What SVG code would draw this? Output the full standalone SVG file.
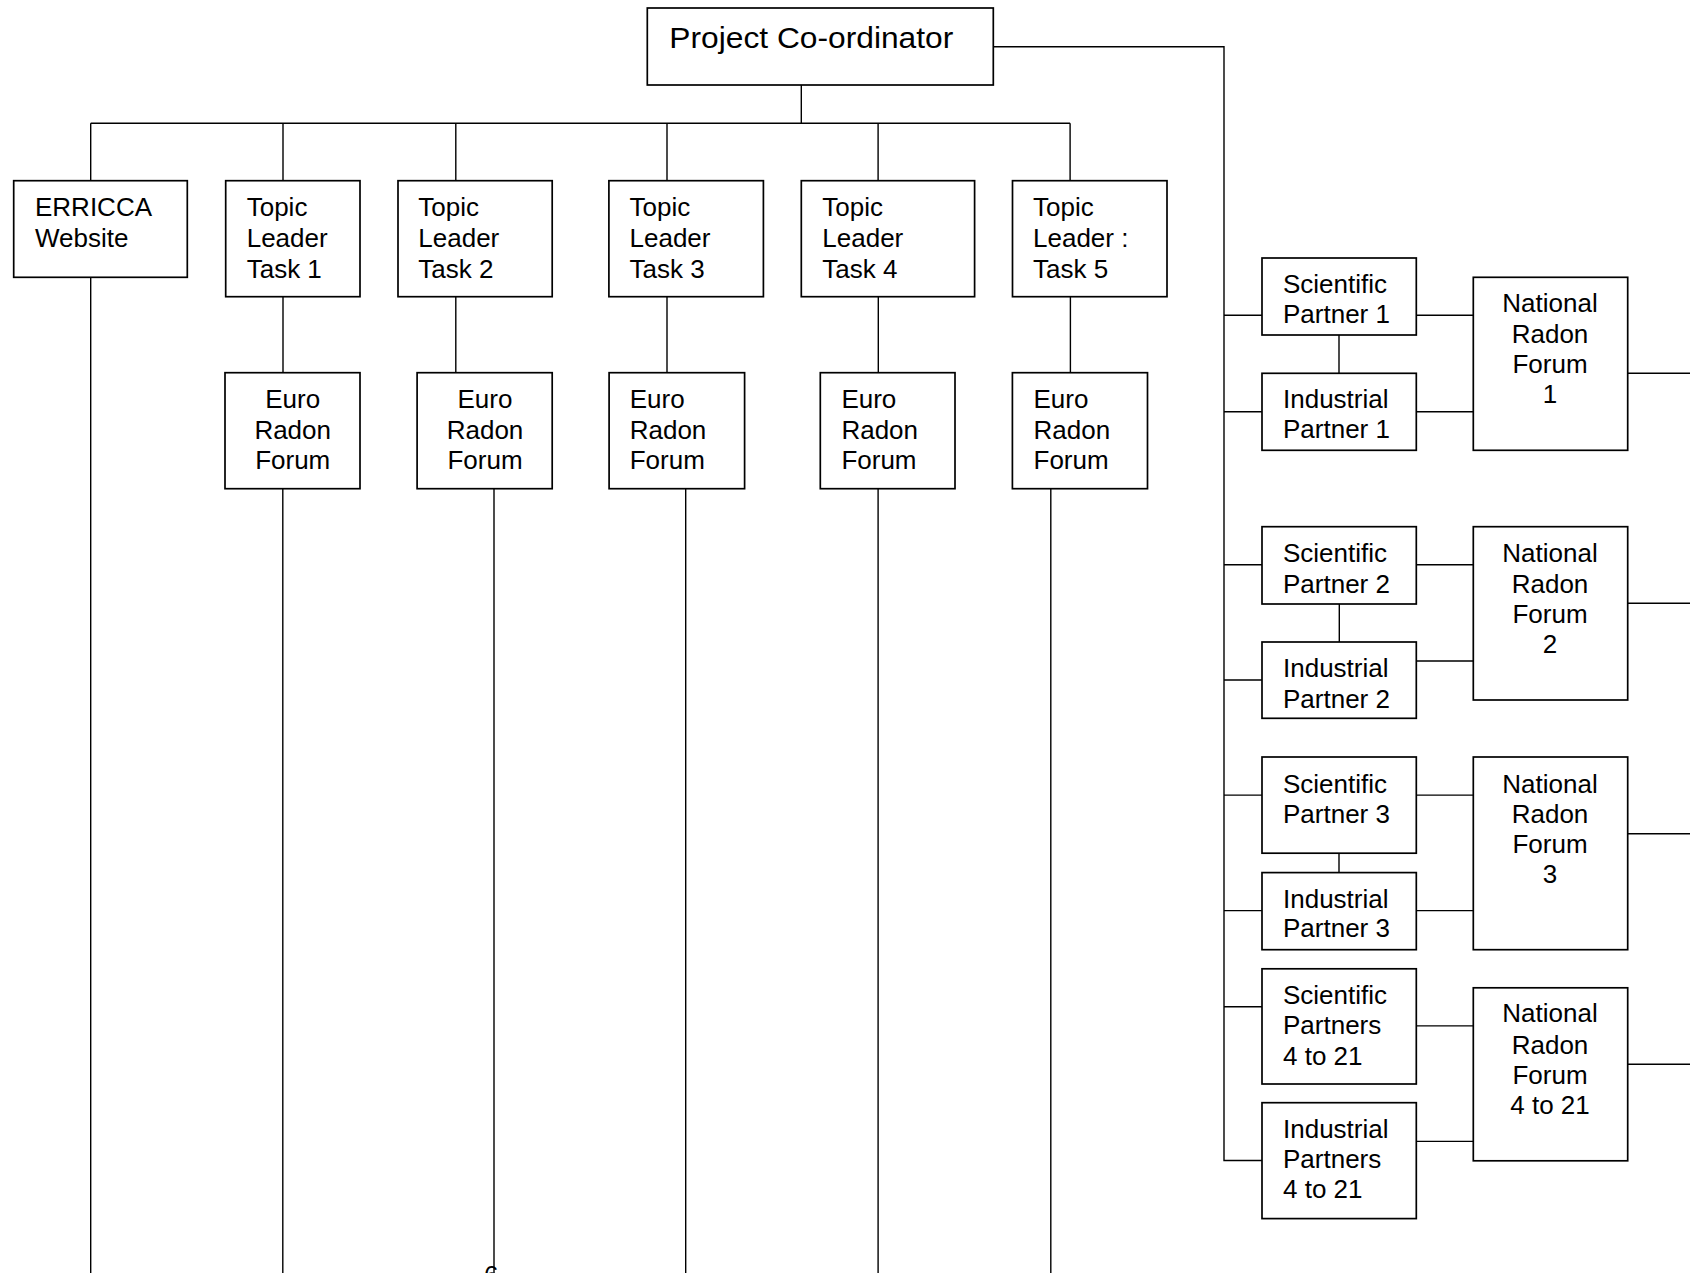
<svg xmlns="http://www.w3.org/2000/svg" width="1690" height="1273" viewBox="0 0 1690 1273">
<style>
.box{fill:#fff;stroke:#000;stroke-width:1.7}
.ln{fill:none;stroke:#000;stroke-width:1.4}
.t{font-family:"Liberation Sans",Arial,sans-serif;font-size:26px;fill:#000}
.c{text-anchor:middle}
</style>
<rect width="1690" height="1273" fill="#fff"/>
<g id="connectors" class="ln">
<path d="M801.3 85V123.3M90.7 123.3H1070.1"/>
<path d="M90.7 123.3V180.7M283 123.3V180.7M455.8 123.3V180.7M667 123.3V180.7M878.1 123.3V180.7M1070.1 123.3V180.7"/>
<path d="M283 296.7V372.7M455.8 296.7V372.7M667 296.7V372.7M878.3 296.7V372.7M1070.4 296.7V372.7"/>
<path d="M90.7 277.3V1273M282.8 488.7V1273M494 488.7V1273M685.7 488.7V1273M878.1 488.7V1273M1050.8 488.7V1273"/>
<path d="M993.3 46.7H1224V1160.5H1262"/>
<path d="M1224 315.3H1262M1224 411.7H1262M1224 564.7H1262M1224 680H1262M1224 795.1H1262M1224 910.6H1262M1224 1006.8H1262"/>
<path d="M1339 335V373.3M1339.3 604V642M1339 853.2V872.6"/>
<path d="M1416.3 315.3H1473.3M1416.3 411.7H1473.3M1416.3 564.7H1473.3M1416.3 661H1473.3M1416.3 795.1H1473.3M1416.3 910.6H1473.3M1416.3 1025.9H1473.3M1416.3 1141.4H1473.3"/>
<path d="M1627.7 373.3H1690M1627.7 603.3H1690M1627.7 833.8H1690M1627.7 1064.3H1690"/>
</g>
<g id="project-coordinator">
<rect class="box" x="647.3" y="8" width="346" height="77"/>
<text class="t" x="669.3" y="47.7" style="font-size:30px" textLength="284" lengthAdjust="spacingAndGlyphs">Project Co-ordinator</text>
</g>
<g id="erricca-website">
<rect class="box" x="13.7" y="180.7" width="173.6" height="96.6"/>
<text class="t" x="35" y="215.7">ERRICCA</text>
<text class="t" x="35" y="246.7">Website</text>
</g>
<g id="topic-1">
<rect class="box" x="225.7" y="180.7" width="134.3" height="116"/>
<text class="t" x="246.7" y="215.7">Topic</text>
<text class="t" x="246.7" y="247">Leader</text>
<text class="t" x="246.7" y="277.7">Task 1</text>
</g>
<g id="topic-2">
<rect class="box" x="398" y="180.7" width="154.2" height="116"/>
<text class="t" x="418.3" y="215.7">Topic</text>
<text class="t" x="418.3" y="247">Leader</text>
<text class="t" x="418.3" y="277.7">Task 2</text>
</g>
<g id="topic-3">
<rect class="box" x="608.9" y="180.7" width="154.5" height="116"/>
<text class="t" x="629.5" y="215.7">Topic</text>
<text class="t" x="629.5" y="247">Leader</text>
<text class="t" x="629.5" y="277.7">Task 3</text>
</g>
<g id="topic-4">
<rect class="box" x="801.3" y="180.7" width="173.3" height="116"/>
<text class="t" x="822.3" y="215.7">Topic</text>
<text class="t" x="822.3" y="247">Leader</text>
<text class="t" x="822.3" y="277.7">Task 4</text>
</g>
<g id="topic-5">
<rect class="box" x="1012.5" y="180.7" width="154.5" height="116"/>
<text class="t" x="1033" y="215.7">Topic</text>
<text class="t" x="1033" y="247">Leader :</text>
<text class="t" x="1033" y="277.7">Task 5</text>
</g>
<g id="euro-1">
<rect class="box" x="225" y="372.7" width="135" height="116"/>
<text class="t c" x="292.7" y="408.3">Euro</text>
<text class="t c" x="292.7" y="439.3">Radon</text>
<text class="t c" x="292.7" y="469.3">Forum</text>
</g>
<g id="euro-2">
<rect class="box" x="417.1" y="372.7" width="135.1" height="116"/>
<text class="t c" x="485" y="408.3">Euro</text>
<text class="t c" x="485" y="439.3">Radon</text>
<text class="t c" x="485" y="469.3">Forum</text>
</g>
<g id="euro-3">
<rect class="box" x="609.1" y="372.7" width="135.5" height="116"/>
<text class="t" x="629.7" y="408.3">Euro</text>
<text class="t" x="629.7" y="439.3">Radon</text>
<text class="t" x="629.7" y="469.3">Forum</text>
</g>
<g id="euro-4">
<rect class="box" x="820.3" y="372.7" width="134.7" height="116"/>
<text class="t" x="841.4" y="408.3">Euro</text>
<text class="t" x="841.4" y="439.3">Radon</text>
<text class="t" x="841.4" y="469.3">Forum</text>
</g>
<g id="euro-5">
<rect class="box" x="1012.4" y="372.7" width="135.1" height="116"/>
<text class="t" x="1033.5" y="408.3">Euro</text>
<text class="t" x="1033.5" y="439.3">Radon</text>
<text class="t" x="1033.5" y="469.3">Forum</text>
</g>
<g id="scientific-partner-1">
<rect class="box" x="1262" y="258" width="154.3" height="77"/>
<text class="t" x="1283" y="292.7">Scientific</text>
<text class="t" x="1283" y="323.3">Partner 1</text>
</g>
<g id="industrial-partner-1">
<rect class="box" x="1262" y="373.3" width="154.3" height="77"/>
<text class="t" x="1283" y="407.7">Industrial</text>
<text class="t" x="1283" y="438.3">Partner 1</text>
</g>
<g id="national-radon-forum-1">
<rect class="box" x="1473.3" y="277.3" width="154.4" height="173"/>
<text class="t c" x="1550" y="311.7">National</text>
<text class="t c" x="1550" y="342.7">Radon</text>
<text class="t c" x="1550" y="373.3">Forum</text>
<text class="t c" x="1550" y="403.3">1</text>
</g>
<g id="scientific-partner-2">
<rect class="box" x="1262" y="526.7" width="154.3" height="77.3"/>
<text class="t" x="1283" y="561.7">Scientific</text>
<text class="t" x="1283" y="592.7">Partner 2</text>
</g>
<g id="industrial-partner-2">
<rect class="box" x="1262" y="642" width="154.3" height="76.3"/>
<text class="t" x="1283" y="676.7">Industrial</text>
<text class="t" x="1283" y="707.7">Partner 2</text>
</g>
<g id="national-radon-forum-2">
<rect class="box" x="1473.3" y="526.7" width="154.4" height="173.3"/>
<text class="t c" x="1550" y="561.7">National</text>
<text class="t c" x="1550" y="592.7">Radon</text>
<text class="t c" x="1550" y="623.3">Forum</text>
<text class="t c" x="1550" y="653.3">2</text>
</g>
<g id="scientific-partner-3">
<rect class="box" x="1262" y="757" width="154.3" height="96.2"/>
<text class="t" x="1283" y="792.7">Scientific</text>
<text class="t" x="1283" y="822.6">Partner 3</text>
</g>
<g id="industrial-partner-3">
<rect class="box" x="1262" y="872.6" width="154.3" height="77.1"/>
<text class="t" x="1283" y="907.6">Industrial</text>
<text class="t" x="1283" y="937.1">Partner 3</text>
</g>
<g id="national-radon-forum-3">
<rect class="box" x="1473.3" y="757" width="154.4" height="192.7"/>
<text class="t c" x="1550" y="792.7">National</text>
<text class="t c" x="1550" y="822.6">Radon</text>
<text class="t c" x="1550" y="853.2">Forum</text>
<text class="t c" x="1550" y="882.8">3</text>
</g>
<g id="scientific-partners-4-21">
<rect class="box" x="1262" y="968.8" width="154.3" height="115.2"/>
<text class="t" x="1283" y="1004.1">Scientific</text>
<text class="t" x="1283" y="1034">Partners</text>
<text class="t" x="1283" y="1064.6">4 to 21</text>
</g>
<g id="industrial-partners-4-21">
<rect class="box" x="1262" y="1102.7" width="154.3" height="115.9"/>
<text class="t" x="1283" y="1137.7">Industrial</text>
<text class="t" x="1283" y="1168.3">Partners</text>
<text class="t" x="1283" y="1198.2">4 to 21</text>
</g>
<g id="national-radon-forum-4-21">
<rect class="box" x="1473.3" y="987.8" width="154.4" height="173"/>
<text class="t c" x="1550" y="1022.1">National</text>
<text class="t c" x="1550" y="1054.4">Radon</text>
<text class="t c" x="1550" y="1084">Forum</text>
<text class="t c" x="1550" y="1113.9">4 to 21</text>
</g>
<text class="t" x="484" y="1284">6</text>
</svg>
